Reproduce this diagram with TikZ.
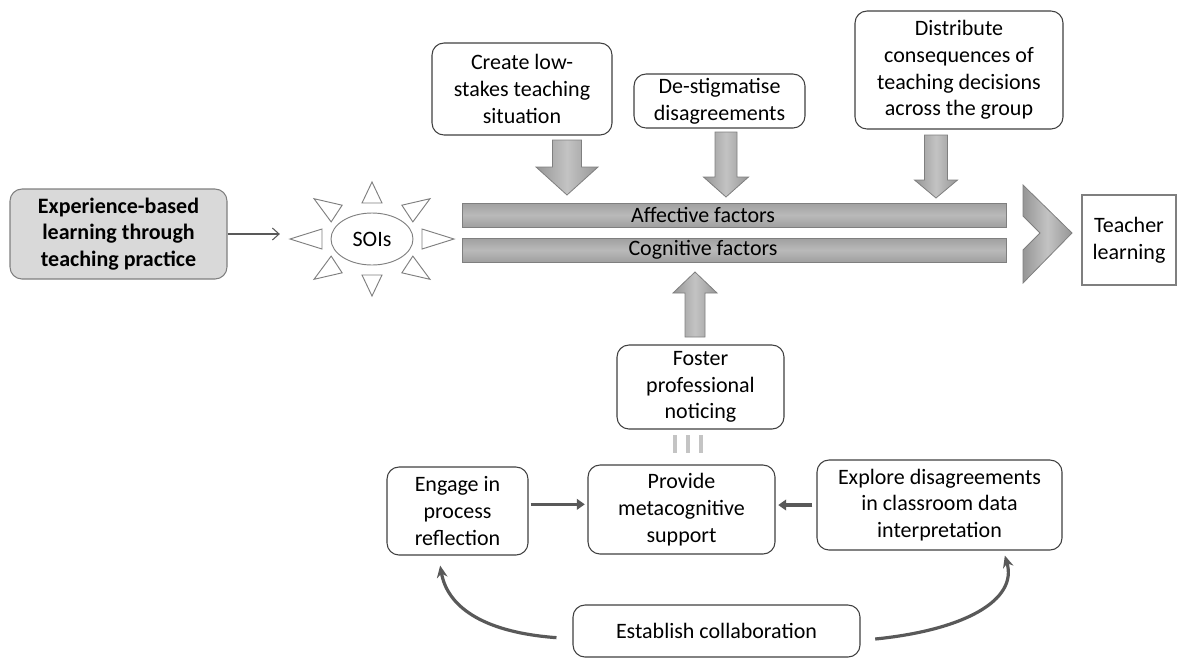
\documentclass[tikz,border=0pt]{standalone}
\usepackage{fontspec}
\setmainfont{Carlito}
\usetikzlibrary{arrows.meta,calc,shapes.geometric}
\definecolor{boxline}{HTML}{404040}
\definecolor{arrowgray}{HTML}{595959}
\definecolor{blockline}{HTML}{7F7F7F}
\definecolor{expfill}{HTML}{D9D9D9}
\definecolor{dashgray}{HTML}{C4C4C4}
\newcommand\txtsize{\fontsize{16.5pt}{20pt}\selectfont}
\newcommand\blkarrow[6]{%
  \draw[blk] ({#1-#5},#2) -- ({#1+#5},#2) -- ({#1+#5},#3) -- ({#1+#6},#3) -- (#1,#4) -- ({#1-#6},#3) -- ({#1-#5},#3) -- cycle;}
\begin{document}
\begin{tikzpicture}[x=0.75pt,y=-0.75pt,
  sz/.style 2 args={minimum width=#1*0.75pt, minimum height=#2*0.75pt},
  box/.style={draw=boxline, line width=0.8pt, rounded corners=9pt, align=center, inner sep=0pt, font=\txtsize, fill=white},
  plainbox/.style={draw=blockline, line width=0.8pt, align=center, inner sep=0pt, font=\txtsize, fill=white},
  bartxt/.style={font=\txtsize, inner sep=0pt},
  bar/.style={draw=blockline, line width=0.6pt, top color={rgb,255:red,160;green,160;blue,160}, bottom color={rgb,255:red,160;green,160;blue,160}, middle color={rgb,255:red,185;green,185;blue,185}, inner sep=0pt},
  blk/.style={draw=blockline, line width=0.6pt, left color={rgb,255:red,150;green,150;blue,150}, right color={rgb,255:red,150;green,150;blue,150}, middle color={rgb,255:red,195;green,195;blue,195}},
  ray/.style={draw=blockline, line width=0.7pt, fill=white, line join=miter},
  flow/.style={draw=arrowgray, line width=2.6pt, -{Triangle[length=6pt,width=8pt]}},
  curv/.style={draw=arrowgray, line width=2.4pt, -{Stealth[length=9pt,width=8pt]}},
  thinarr/.style={draw=arrowgray, line width=0.8pt, -{Straight Barb[length=5pt,width=9pt]}},
  marks/.style={draw=dashgray, line width=3pt}
]
\useasboundingbox (0,0) rectangle (1177,658);

% left box and sun
\node[box, fill=expfill, draw=blockline, sz={217}{90}, font=\txtsize\bfseries] (exp) at (118.5,234)
  {Experience-based\\learning through\\teaching practice};
\node[draw=blockline, line width=0.7pt, ellipse, inner sep=0pt, sz={82}{52}, font=\txtsize] (soi) at (372,239) {SOIs};
\foreach \a in {0,45,...,315}{
  \coordinate (rb) at ($(soi)+({50*cos(\a)},{-36*sin(\a)})$);
  \coordinate (ra) at ($(soi)+({82*cos(\a)},{-57*sin(\a)})$);
  \draw[ray] ($(rb)!7.5pt!90:(ra)$) -- (ra) -- ($(rb)!7.5pt!-90:(ra)$) -- cycle;
}
\coordinate (soiin) at ([xshift=-38pt]soi.west |- exp.east);
\draw[thinarr] (exp.east) -- (soiin);

% bars
\node[bar, sz={544}{24}] (affbar) at (734,215) {};
\node[bar, sz={544}{24}] (cogbar) at (734,250) {};
\node[bartxt] (afftxt) at (703,215) {Affective factors};
\node[bartxt] (cogtxt) at (703,250) {Cognitive factors};

% chevron
\draw[blk] (1023,185) -- (1072,233) -- (1023,283) -- (1023,250) -- (1040,233) -- (1023,216) -- cycle;
\node[plainbox, sz={94}{90}] (teach) at (1129,240) {Teacher\\learning};

% top boxes
\node[box, sz={180}{92}] (create) at (522,89) {Create low-\\stakes teaching\\situation};
\node[box, sz={171}{54}] (destig) at (719.5,101) {De-stigmatise\\disagreements};
\node[box, sz={208}{118}] (distrib) at (959,70) {Distribute\\consequences of\\teaching decisions\\across the group};

% block arrows
\blkarrow{567}{140}{167}{195}{14.5}{31}
\blkarrow{726}{132}{177}{197}{11}{22.5}
\blkarrow{936}{135}{180}{198}{11.5}{21.5}
\blkarrow{695}{337}{293}{272}{10}{22}

% lower part
\node[box, sz={167}{84}] (foster) at (700.5,387) {Foster\\professional\\noticing};
\draw[marks] (675,435) -- (675,453);
\draw[marks] (688,435) -- (688,453);
\draw[marks] (701,435) -- (701,453);

\node[box, sz={141}{88}] (eng) at (457.5,511) {Engage in\\process\\reflection};
\node[box, sz={187}{89}] (prov) at (681.5,509.5) {Provide\\metacognitive\\support};
\node[box, sz={245}{90}] (expl) at (939.5,505) {Explore disagreements\\in classroom data\\interpretation};
\node[box, sz={287}{52}] (est) at (716.5,631) {Establish collaboration};

\draw[flow] ([xshift=1.5pt,yshift=5pt]eng.east) -- ([xshift=-2pt,yshift=5pt]eng.east -| prov.west);
\draw[flow] ([xshift=-3pt]expl.west) -- ([xshift=2pt]expl.west -| prov.east);

\draw[curv] ([xshift=-12pt,yshift=-5pt]est.west) .. controls (480,632) and (447,605) .. ([xshift=-13pt,yshift=-7.5pt]eng.south);
\draw[curv] ([xshift=11pt,yshift=-6pt]est.east) .. controls (965,630) and (1018,600) .. ([xshift=49pt,yshift=-3.75pt]expl.south);
\end{tikzpicture}
\end{document}
